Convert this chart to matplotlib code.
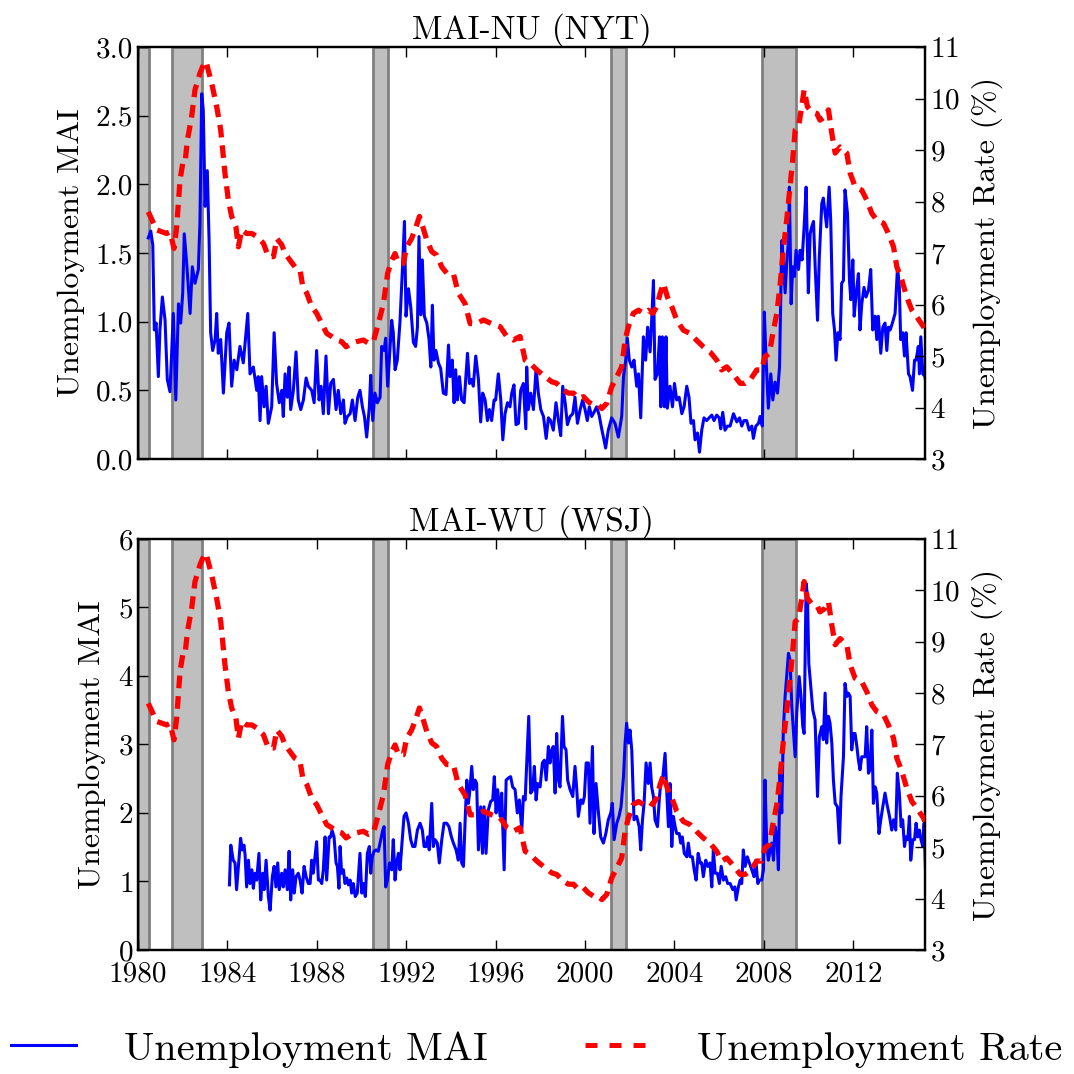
import matplotlib
matplotlib.use("Agg")
import matplotlib.pyplot as plt
from matplotlib.lines import Line2D

plt.rcParams["font.family"] = ["cmr10", "DejaVu Serif"]
plt.rcParams["mathtext.fontset"] = "cm"
plt.rcParams["axes.unicode_minus"] = False
plt.rcParams["axes.formatter.use_mathtext"] = True


# NBER RECESSIONS (decimal years)
rec_start = [1980.0, 1981.5, 1990.5, 2001.17, 2007.92]
rec_end = [1980.5, 1982.86, 1991.17, 2001.83, 2009.42]

# UNEMPLOYMENT RATE (%), (years since 1980, value)
rate = [
    (0.46, 7.80), (0.83, 7.45), (1.28, 7.38), (1.43, 7.41), (1.61, 7.09), (1.73, 7.51), (1.88, 8.42),
    (2.00, 8.74), (2.10, 8.74), (2.21, 9.19), (2.40, 9.65), (2.55, 10.17), (2.77, 10.49), (2.89, 10.62),
    (3.04, 10.72), (3.10, 10.62), (3.30, 10.29), (3.52, 9.84), (3.70, 9.39), (3.89, 8.55), (4.04, 8.03),
    (4.19, 7.71), (4.38, 7.51), (4.49, 7.12), (4.64, 7.45), (4.86, 7.38), (5.09, 7.38), (5.31, 7.32),
    (5.61, 7.19), (5.83, 6.93), (6.06, 6.93), (6.21, 7.28), (6.43, 7.16), (6.58, 6.99), (6.80, 6.86),
    (7.02, 6.73), (7.25, 6.67), (7.37, 6.35), (7.55, 6.22), (7.77, 5.96), (7.99, 5.83), (8.22, 5.63),
    (8.44, 5.44), (8.66, 5.38), (8.89, 5.31), (9.11, 5.28), (9.31, 5.18), (9.56, 5.25), (9.78, 5.28),
    (10.08, 5.31), (10.31, 5.25), (10.53, 5.28), (10.75, 5.63), (10.98, 6.02), (11.17, 6.61), (11.35, 6.86),
    (11.50, 6.99), (11.65, 6.80), (11.87, 6.80), (12.02, 7.12), (12.24, 7.28), (12.44, 7.51), (12.59, 7.71),
    (12.74, 7.51), (12.92, 7.25), (13.14, 7.03), (13.36, 6.96), (13.59, 6.73), (13.81, 6.61), (14.11, 6.60),
    (14.33, 6.22), (14.63, 6.02), (14.86, 5.63), (15.15, 5.63), (15.45, 5.70), (15.82, 5.63), (16.20, 5.57),
    (16.50, 5.38), (16.79, 5.31), (17.09, 5.38), (17.32, 4.92), (17.54, 4.86), (17.84, 4.73), (18.21, 4.60),
    (18.51, 4.50), (18.73, 4.47), (19.03, 4.34), (19.25, 4.28), (19.48, 4.28), (19.70, 4.18), (19.93, 4.21),
    (20.15, 4.11), (20.37, 4.05), (20.60, 4.05), (20.75, 3.98), (20.97, 4.08), (21.19, 4.40), (21.42, 4.60),
    (21.64, 4.79), (21.79, 5.31), (21.94, 5.57), (22.16, 5.83), (22.39, 5.89), (22.61, 5.83), (22.83, 5.89),
    (23.03, 5.83), (23.21, 5.96), (23.36, 6.22), (23.51, 6.41), (23.68, 6.15), (23.88, 5.96), (24.10, 5.70),
    (24.40, 5.50), (24.70, 5.44), (24.98, 5.31), (25.29, 5.18), (25.59, 5.08), (25.89, 4.92), (26.11, 4.73),
    (26.34, 4.79), (26.71, 4.60), (26.94, 4.47), (27.16, 4.47), (27.38, 4.53), (27.68, 4.73), (27.90, 4.73),
    (28.05, 4.99), (28.25, 5.05), (28.40, 5.44), (28.58, 5.83), (28.72, 6.35), (28.87, 7.06), (29.02, 7.64),
    (29.17, 8.29), (29.29, 8.81), (29.40, 9.39), (29.55, 9.45), (29.69, 9.84), (29.80, 10.17), (29.95, 9.84),
    (30.14, 9.74), (30.37, 9.71), (30.51, 9.58), (30.74, 9.65), (30.89, 9.78), (31.04, 9.32), (31.19, 8.94),
    (31.41, 9.06), (31.71, 8.94), (31.86, 8.55), (32.08, 8.29), (32.38, 8.22), (32.60, 8.03), (32.83, 7.77),
    (33.05, 7.64), (33.35, 7.58), (33.57, 7.38), (33.80, 7.12), (33.95, 6.73), (34.17, 6.48), (34.39, 6.15),
    (34.62, 5.89), (34.84, 5.76), (35.14, 5.57), (35.20, 5.50),
]

# MAI-NU (NYT)
nyt_mai = [
    (0.46, 1.61), (0.57, 1.66), (0.66, 1.56), (0.73, 0.94), (0.81, 0.99), (0.91, 0.60), (0.98, 0.94), (1.09, 1.18),
    (1.21, 1.01), (1.31, 0.58), (1.43, 0.49), (1.58, 1.06), (1.69, 0.43), (1.81, 1.13), (1.91, 0.99), (2.00, 1.21),
    (2.07, 1.64), (2.18, 1.42), (2.33, 1.06), (2.43, 1.40), (2.55, 1.28), (2.70, 1.38), (2.77, 1.72), (2.85, 2.66),
    (2.92, 2.54), (3.00, 1.84), (3.10, 2.10), (3.18, 1.59), (3.25, 0.92), (3.34, 0.79), (3.45, 0.87), (3.52, 1.06),
    (3.59, 0.77), (3.70, 0.87), (3.82, 0.48), (3.97, 0.92), (4.07, 0.99), (4.19, 0.53), (4.30, 0.72), (4.42, 0.65),
    (4.56, 0.82), (4.71, 0.70), (4.91, 1.06), (5.01, 0.62), (5.16, 0.67), (5.31, 0.50), (5.38, 0.60), (5.46, 0.28),
    (5.53, 0.60), (5.64, 0.38), (5.73, 0.53), (5.83, 0.26), (5.98, 0.38), (6.09, 0.92), (6.20, 0.55), (6.32, 0.41),
    (6.43, 0.50), (6.50, 0.31), (6.58, 0.62), (6.68, 0.45), (6.76, 0.67), (6.83, 0.36), (6.95, 0.50), (7.07, 0.78),
    (7.17, 0.43), (7.28, 0.36), (7.40, 0.43), (7.52, 0.59), (7.62, 0.53), (7.77, 0.50), (7.88, 0.41), (7.99, 0.79),
    (8.10, 0.43), (8.19, 0.53), (8.29, 0.33), (8.41, 0.75), (8.52, 0.33), (8.62, 0.55), (8.74, 0.58), (8.86, 0.36),
    (8.96, 0.50), (9.07, 0.33), (9.19, 0.43), (9.26, 0.26), (9.37, 0.31), (9.49, 0.33), (9.59, 0.43), (9.71, 0.28),
    (9.83, 0.45), (9.93, 0.50), (10.04, 0.38), (10.13, 0.31), (10.23, 0.16), (10.35, 0.38), (10.41, 0.61),
    (10.50, 0.28), (10.60, 0.48), (10.71, 0.41), (10.83, 0.45), (10.90, 0.82), (11.01, 0.79), (11.08, 0.88),
    (11.17, 0.53), (11.28, 0.82), (11.35, 1.01), (11.42, 0.92), (11.50, 0.65), (11.60, 0.72), (11.72, 1.00),
    (11.84, 1.42), (11.92, 1.73), (11.99, 1.04), (12.10, 1.24), (12.20, 1.11), (12.32, 0.85), (12.42, 0.82),
    (12.50, 0.96), (12.57, 1.62), (12.65, 1.05), (12.72, 1.45), (12.81, 1.04), (12.92, 0.99), (13.02, 0.87),
    (13.10, 0.67), (13.17, 1.12), (13.24, 0.72), (13.33, 0.79), (13.44, 0.70), (13.54, 0.66), (13.66, 0.48),
    (13.78, 0.47), (13.89, 0.83), (13.96, 0.60), (14.06, 0.72), (14.14, 0.41), (14.21, 0.65), (14.29, 0.43),
    (14.38, 0.60), (14.48, 0.43), (14.59, 0.41), (14.74, 0.77), (14.83, 0.55), (14.93, 0.58), (15.00, 0.53),
    (15.11, 0.75), (15.23, 0.58), (15.33, 0.27), (15.42, 0.48), (15.53, 0.43), (15.63, 0.28), (15.72, 0.36),
    (15.82, 0.28), (15.93, 0.43), (16.00, 0.43), (16.12, 0.62), (16.23, 0.43), (16.32, 0.14), (16.42, 0.33),
    (16.53, 0.41), (16.64, 0.38), (16.72, 0.48), (16.82, 0.54), (16.91, 0.25), (17.02, 0.26), (17.12, 0.50),
    (17.24, 0.55), (17.35, 0.22), (17.39, 0.67), (17.46, 0.36), (17.57, 0.48), (17.69, 0.36), (17.81, 0.66),
    (17.91, 0.48), (18.02, 0.36), (18.14, 0.31), (18.26, 0.15), (18.36, 0.30), (18.46, 0.28), (18.58, 0.21),
    (18.70, 0.41), (18.81, 0.28), (18.91, 0.17), (19.00, 0.53), (19.11, 0.41), (19.21, 0.25), (19.33, 0.31),
    (19.45, 0.33), (19.55, 0.45), (19.66, 0.26), (19.78, 0.36), (19.89, 0.43), (20.00, 0.36), (20.10, 0.28),
    (20.19, 0.38), (20.30, 0.31), (20.40, 0.34), (20.52, 0.38), (20.63, 0.32), (20.72, 0.24), (20.82, 0.16),
    (20.92, 0.08), (21.04, 0.21), (21.19, 0.30), (21.34, 0.26), (21.49, 0.16), (21.64, 0.31), (21.72, 0.60),
    (21.82, 0.72), (21.89, 0.88), (21.98, 0.72), (22.09, 0.67), (22.19, 0.72), (22.31, 0.53), (22.39, 0.62),
    (22.49, 0.30), (22.61, 0.89), (22.71, 0.72), (22.80, 0.96), (22.91, 0.78), (22.98, 1.01), (23.06, 1.30),
    (23.13, 0.58), (23.24, 0.62), (23.33, 0.89), (23.39, 0.38), (23.46, 0.89), (23.55, 0.38), (23.62, 0.89),
    (23.68, 0.37), (23.80, 0.53), (23.91, 0.38), (24.00, 0.55), (24.10, 0.43), (24.21, 0.45), (24.33, 0.33),
    (24.43, 0.38), (24.55, 0.53), (24.65, 0.45), (24.74, 0.26), (24.85, 0.28), (24.92, 0.14), (25.03, 0.19),
    (25.12, 0.05), (25.22, 0.21), (25.32, 0.30), (25.44, 0.28), (25.55, 0.30), (25.67, 0.32), (25.77, 0.28),
    (25.89, 0.32), (26.00, 0.30), (26.07, 0.22), (26.16, 0.34), (26.26, 0.21), (26.37, 0.24), (26.49, 0.24),
    (26.64, 0.33), (26.79, 0.27), (26.91, 0.30), (27.01, 0.24), (27.11, 0.28), (27.23, 0.28), (27.34, 0.21),
    (27.46, 0.24), (27.53, 0.15), (27.64, 0.24), (27.76, 0.26), (27.83, 0.31), (27.93, 0.24), (28.02, 1.07),
    (28.10, 0.72), (28.20, 0.37), (28.31, 0.62), (28.40, 0.43), (28.50, 0.56), (28.61, 0.48), (28.70, 0.67),
    (28.80, 1.59), (28.87, 1.45), (28.95, 1.21), (29.02, 1.42), (29.10, 1.59), (29.14, 1.98), (29.22, 1.13),
    (29.29, 1.40), (29.37, 1.33), (29.44, 1.52), (29.55, 1.38), (29.62, 1.52), (29.71, 1.45), (29.80, 1.69),
    (29.89, 1.98), (29.99, 1.21), (30.07, 1.64), (30.14, 1.69), (30.22, 1.73), (30.29, 1.42), (30.40, 1.01),
    (30.48, 1.47), (30.59, 1.86), (30.66, 1.90), (30.74, 1.79), (30.81, 1.69), (30.92, 1.98), (30.99, 1.74),
    (31.08, 1.06), (31.16, 0.94), (31.23, 0.72), (31.31, 0.92), (31.41, 0.87), (31.48, 1.28), (31.56, 1.30),
    (31.63, 1.96), (31.74, 1.79), (31.83, 1.30), (31.89, 1.16), (31.98, 1.45), (32.04, 1.04), (32.13, 1.21),
    (32.23, 1.35), (32.30, 0.94), (32.38, 1.13), (32.48, 1.25), (32.57, 1.18), (32.68, 1.23), (32.78, 1.38),
    (32.87, 0.94), (32.98, 1.04), (33.05, 0.87), (33.12, 1.04), (33.23, 0.77), (33.32, 0.96), (33.42, 0.99),
    (33.50, 0.79), (33.57, 0.96), (33.65, 0.94), (33.75, 0.99), (33.87, 1.06), (33.98, 1.40), (34.06, 1.25),
    (34.12, 0.87), (34.21, 0.92), (34.29, 0.75), (34.36, 0.92), (34.47, 0.62), (34.54, 0.60), (34.65, 0.50),
    (34.74, 0.72), (34.81, 0.72), (34.91, 0.82), (34.96, 0.62), (35.02, 0.89), (35.11, 0.62), (35.21, 0.60),
    (35.26, 0.53),
]

# MAI-WU (WSJ)
wsj_mai = [
    (4.09, 0.95), (4.15, 1.53), (4.26, 1.31), (4.34, 1.27), (4.41, 0.88), (4.49, 1.22), (4.59, 1.63), (4.67, 1.46),
    (4.74, 1.53), (4.79, 1.39), (4.86, 0.92), (4.94, 1.31), (5.01, 0.97), (5.09, 1.17), (5.16, 0.90), (5.23, 1.12),
    (5.31, 1.02), (5.41, 1.41), (5.49, 0.73), (5.58, 1.12), (5.64, 0.88), (5.73, 1.31), (5.83, 0.78), (5.91, 0.58),
    (6.01, 1.07), (6.09, 1.22), (6.17, 0.92), (6.25, 1.27), (6.32, 0.88), (6.43, 1.12), (6.50, 0.92), (6.58, 1.17),
    (6.68, 0.88), (6.76, 1.44), (6.83, 0.73), (6.92, 1.17), (6.99, 0.83), (7.07, 1.07), (7.17, 1.12), (7.25, 1.02),
    (7.34, 0.83), (7.43, 1.22), (7.52, 1.07), (7.62, 0.97), (7.70, 0.97), (7.77, 1.31), (7.84, 1.12), (7.92, 1.36),
    (7.99, 1.58), (8.07, 1.02), (8.14, 1.02), (8.22, 0.97), (8.29, 1.17), (8.37, 1.65), (8.44, 1.02), (8.55, 1.65),
    (8.62, 1.65), (8.68, 1.75), (8.77, 1.65), (8.86, 1.27), (8.92, 1.22), (8.99, 0.90), (9.04, 1.51), (9.11, 1.12),
    (9.19, 1.17), (9.26, 0.97), (9.34, 1.05), (9.41, 0.95), (9.49, 1.02), (9.56, 0.83), (9.63, 0.97), (9.72, 0.78),
    (9.81, 0.83), (9.93, 1.41), (10.01, 0.83), (10.08, 0.97), (10.17, 0.78), (10.26, 1.41), (10.35, 1.51),
    (10.41, 1.12), (10.48, 1.36), (10.56, 1.44), (10.65, 1.46), (10.75, 1.44), (10.86, 1.61), (10.95, 1.75),
    (11.01, 1.80), (11.08, 0.92), (11.16, 1.02), (11.25, 1.27), (11.35, 1.17), (11.42, 1.61), (11.50, 1.02),
    (11.57, 1.27), (11.65, 1.41), (11.72, 1.17), (11.83, 1.65), (11.90, 1.95), (11.99, 2.00), (12.10, 1.85),
    (12.20, 1.61), (12.29, 1.51), (12.39, 1.51), (12.50, 1.75), (12.62, 1.85), (12.72, 1.75), (12.80, 1.51),
    (12.89, 1.51), (12.96, 1.65), (13.03, 1.46), (13.14, 2.14), (13.21, 1.51), (13.29, 1.61), (13.39, 1.56),
    (13.48, 1.27), (13.59, 1.61), (13.69, 1.85), (13.81, 1.85), (13.91, 1.80), (14.02, 1.65), (14.11, 1.56),
    (14.23, 1.46), (14.33, 1.31), (14.41, 1.85), (14.48, 1.27), (14.56, 1.22), (14.63, 1.85), (14.71, 2.48),
    (14.78, 2.14), (14.85, 2.34), (14.93, 2.68), (15.00, 2.34), (15.08, 2.48), (15.15, 2.43), (15.23, 1.46),
    (15.33, 2.09), (15.41, 1.41), (15.48, 2.09), (15.57, 1.41), (15.67, 2.04), (15.78, 2.17), (15.87, 2.19),
    (15.94, 2.53), (16.02, 2.00), (16.09, 2.34), (16.20, 1.95), (16.27, 2.29), (16.38, 1.17), (16.47, 2.48),
    (16.57, 2.51), (16.67, 2.53), (16.76, 2.38), (16.87, 2.34), (16.97, 2.00), (17.06, 2.19), (17.17, 1.75),
    (17.24, 2.24), (17.32, 2.19), (17.39, 2.73), (17.48, 3.41), (17.57, 2.29), (17.66, 2.34), (17.73, 2.68),
    (17.81, 2.19), (17.88, 2.43), (17.99, 2.38), (18.09, 2.73), (18.18, 2.77), (18.26, 2.48), (18.36, 2.97),
    (18.43, 2.73), (18.51, 2.92), (18.58, 2.97), (18.66, 2.29), (18.73, 3.16), (18.81, 2.48), (18.88, 2.38),
    (18.99, 3.41), (19.06, 2.97), (19.15, 2.92), (19.22, 2.48), (19.33, 2.34), (19.45, 2.24), (19.55, 2.68),
    (19.63, 2.34), (19.70, 1.95), (19.81, 2.19), (19.90, 2.14), (19.97, 2.24), (20.05, 2.73), (20.15, 2.73),
    (20.22, 1.85), (20.33, 2.97), (20.40, 1.70), (20.49, 2.43), (20.60, 2.00), (20.70, 1.65), (20.82, 1.56),
    (20.93, 1.70), (21.04, 1.90), (21.15, 2.00), (21.22, 2.14), (21.30, 1.61), (21.42, 1.85), (21.52, 1.95),
    (21.61, 2.09), (21.72, 2.53), (21.79, 3.02), (21.86, 3.31), (21.94, 3.02), (22.01, 3.21), (22.09, 2.92),
    (22.19, 1.90), (22.31, 1.95), (22.42, 1.80), (22.49, 1.46), (22.57, 1.90), (22.64, 2.14), (22.73, 2.73),
    (22.83, 2.43), (22.91, 2.73), (22.98, 2.38), (23.06, 2.24), (23.13, 1.90), (23.24, 1.80), (23.33, 2.24),
    (23.40, 2.48), (23.48, 2.53), (23.58, 2.87), (23.65, 2.34), (23.73, 1.80), (23.80, 2.43), (23.88, 1.51),
    (23.95, 1.95), (24.03, 1.80), (24.10, 1.70), (24.21, 1.70), (24.28, 1.56), (24.35, 1.65), (24.44, 1.41),
    (24.55, 1.36), (24.62, 1.56), (24.70, 1.36), (24.80, 1.36), (24.88, 1.17), (24.97, 1.02), (25.06, 1.41),
    (25.15, 1.27), (25.22, 1.27), (25.29, 1.07), (25.40, 1.31), (25.49, 1.22), (25.59, 1.27), (25.67, 0.92),
    (25.74, 1.46), (25.82, 1.12), (25.92, 1.12), (26.01, 0.97), (26.09, 1.22), (26.19, 1.02), (26.29, 1.07),
    (26.38, 0.97), (26.49, 0.97), (26.61, 0.88), (26.70, 0.92), (26.76, 0.73), (26.86, 0.92), (26.94, 1.02),
    (27.01, 0.97), (27.08, 1.46), (27.16, 1.22), (27.26, 1.36), (27.35, 1.27), (27.46, 1.17), (27.56, 1.07),
    (27.64, 1.31), (27.73, 0.97), (27.80, 1.02), (27.90, 1.02), (27.98, 1.17), (28.05, 2.48), (28.13, 1.51),
    (28.20, 1.31), (28.28, 1.46), (28.35, 1.56), (28.43, 1.31), (28.50, 1.80), (28.58, 1.65), (28.65, 1.17),
    (28.72, 2.63), (28.80, 2.00), (28.87, 3.21), (28.95, 3.70), (29.02, 3.99), (29.10, 4.33), (29.17, 4.23),
    (29.25, 3.55), (29.32, 3.21), (29.40, 2.82), (29.47, 3.46), (29.58, 3.99), (29.66, 3.70), (29.74, 3.26),
    (29.80, 3.16), (29.89, 5.35), (29.95, 5.16), (30.01, 4.18), (30.10, 3.84), (30.19, 3.50), (30.29, 3.36),
    (30.40, 2.24), (30.48, 3.11), (30.59, 3.26), (30.66, 3.07), (30.74, 3.75), (30.81, 3.02), (30.89, 3.41),
    (30.96, 3.31), (31.04, 3.02), (31.11, 2.48), (31.19, 2.14), (31.29, 2.09), (31.38, 1.56), (31.45, 2.24),
    (31.56, 2.82), (31.63, 3.89), (31.71, 3.70), (31.78, 3.75), (31.86, 3.70), (31.93, 2.92), (32.01, 3.16),
    (32.08, 3.16), (32.16, 2.97), (32.23, 2.77), (32.30, 2.63), (32.38, 2.82), (32.45, 2.82), (32.53, 2.82),
    (32.60, 3.26), (32.68, 2.58), (32.75, 2.63), (32.83, 3.21), (32.90, 2.14), (32.98, 2.38), (33.05, 2.29),
    (33.15, 1.70), (33.23, 1.90), (33.32, 2.09), (33.42, 2.29), (33.50, 2.14), (33.62, 1.95), (33.72, 1.75),
    (33.80, 1.90), (33.90, 1.75), (33.97, 2.58), (34.06, 2.29), (34.14, 1.80), (34.21, 1.90), (34.29, 1.51),
    (34.36, 1.65), (34.44, 1.61), (34.51, 1.95), (34.57, 1.31), (34.66, 1.61), (34.74, 1.61), (34.81, 1.85),
    (34.88, 1.65), (34.96, 1.75), (35.03, 1.61), (35.11, 1.51), (35.17, 1.85), (35.24, 1.07),
]

year_ticks = [1980, 1984, 1988, 1992, 1996, 2000, 2004, 2008, 2012]
rate_ticks = [3, 4, 5, 6, 7, 8, 9, 10, 11]


def panel(ax, serie, titulo, ylim, yticks, show_years):
    t = [1980 + p[0] for p in serie]
    v = [p[1] for p in serie]
    rt = [1980 + p[0] for p in rate]
    rv = [p[1] for p in rate]

    # recesiones
    for a, b in zip(rec_start, rec_end):
        ax.axvspan(a, b, facecolor="#bfbfbf", edgecolor="#808080", lw=2, zorder=0)

    ax.plot(t, v, color="blue", lw=2.2, zorder=2)
    ax.set_xlim(1980, 2015.21)
    ax.set_ylim(*ylim)
    ax.set_yticks(yticks)
    ax.set_xticks(year_ticks)
    if show_years:
        ax.set_xticklabels([str(y) for y in year_ticks])
    else:
        ax.set_xticklabels([])
    ax.set_ylabel("Unemployment MAI", fontsize=23, labelpad=8)
    ax.set_title(titulo, fontsize=24, pad=4)
    ax.tick_params(direction="in", length=7, width=1, labelsize=21, top=True, right=False)
    ax.tick_params(axis="x", pad=8)
    for s in ax.spines.values():
        s.set_linewidth(1.6)

    axr = ax.twinx()
    axr.plot(rt, rv, color="red", lw=3.8, dashes=(2.4, 1.5), zorder=3)
    axr.set_ylim(3, 11)
    axr.set_yticks(rate_ticks)
    axr.set_ylabel("Unemployment Rate (%)", fontsize=23, labelpad=8)
    axr.tick_params(direction="in", length=7, width=1, labelsize=21)
    for s in axr.spines.values():
        s.set_linewidth(1.6)
    return axr


fig = plt.figure(figsize=(10.74, 10.74), dpi=100)

ax1 = fig.add_axes([0.1285, 0.5726, 0.7328, 0.3836])
ax2 = fig.add_axes([0.1285, 0.1155, 0.7328, 0.3827])

panel(ax1, nyt_mai, "MAI-NU (NYT)", (0, 3), [0, 0.5, 1.0, 1.5, 2.0, 2.5, 3.0], False)
panel(ax2, wsj_mai, "MAI-WU (WSJ)", (0, 6), [0, 1, 2, 3, 4, 5, 6], True)
ax1.set_yticklabels(["0.0", "0.5", "1.0", "1.5", "2.0", "2.5", "3.0"])

h1 = Line2D([], [], color="blue", lw=2.2)
h2 = Line2D([], [], color="red", lw=3.6, dashes=(2.4, 2.4))
fig.legend(
    [h1, h2],
    ["Unemployment MAI", "Unemployment Rate"],
    loc="center",
    bbox_to_anchor=(0.5, 0.023),
    ncol=2,
    frameon=False,
    fontsize=29,
    handlelength=1.6,
    handletextpad=1.2,
    columnspacing=2.4,
)

plt.savefig("out.png", dpi=100)
